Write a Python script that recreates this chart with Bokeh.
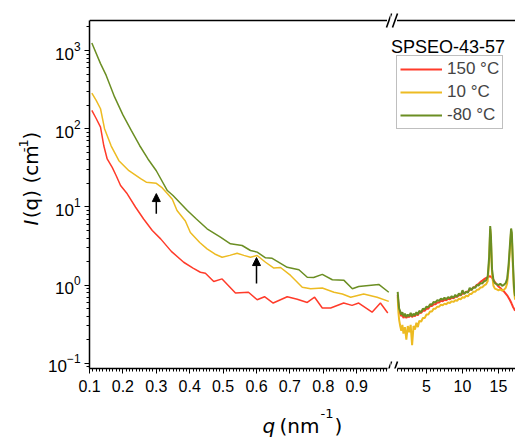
import numpy as np
from bokeh.plotting import figure
from bokeh.layouts import row, column
from bokeh.models import (Range1d, FixedTicker, Label, Legend, LegendItem,
                          Arrow, NormalHead)
from bokeh.embed import file_html
from bokeh.resources import INLINE

# ---------------- data: low-q segment (0.1 - 1.0 nm^-1) ----------------
q_red_lo = [0.107, 0.12, 0.133, 0.143, 0.153, 0.168, 0.18, 0.193, 0.213, 0.238, 0.262, 0.288,
            0.313, 0.345, 0.382, 0.41, 0.432, 0.447, 0.472, 0.497, 0.537, 0.576, 0.602, 0.624,
            0.65, 0.692, 0.722, 0.752, 0.774, 0.797, 0.822, 0.861, 0.886, 0.906, 0.946, 0.971, 0.993]
I_red_lo = [172, 135, 105, 60, 41, 32, 25, 18.8, 14.7, 9.9, 7.0, 5.0,
            3.9, 2.7, 1.96, 1.65, 1.46, 1.42, 1.11, 1.2, 0.79, 0.81, 0.65, 0.71,
            0.59, 0.71, 0.66, 0.60, 0.70, 0.51, 0.51, 0.59, 0.55, 0.59, 0.45, 0.59, 0.44]

q_yel_lo = [0.107, 0.12, 0.133, 0.145, 0.165, 0.188, 0.218, 0.253, 0.27, 0.30, 0.318, 0.335,
            0.348, 0.362, 0.387, 0.402, 0.43, 0.452, 0.475, 0.497, 0.52, 0.542, 0.562, 0.582,
            0.602, 0.627, 0.652, 0.672, 0.702, 0.737, 0.762, 0.797, 0.832, 0.857, 0.882, 0.921,
            0.961, 0.996]
I_yel_lo = [285, 230, 180, 100, 60, 39, 29, 23, 20.7, 20.0, 17.5, 14.5,
            12.5, 9.0, 6.6, 4.7, 3.5, 2.91, 2.5, 2.27, 2.4, 2.56, 2.4, 2.27,
            2.39, 1.96, 1.65, 1.68, 1.33, 0.94, 0.90, 0.92, 0.81, 0.77, 0.70, 0.77,
            0.70, 0.62]

q_grn_lo = [0.107, 0.133, 0.15, 0.175, 0.2, 0.225, 0.25, 0.275, 0.3, 0.333, 0.35, 0.393,
            0.42, 0.452, 0.492, 0.522, 0.557, 0.582, 0.602, 0.627, 0.647, 0.692, 0.727, 0.752,
            0.771, 0.797, 0.827, 0.862, 0.887, 0.906, 0.966, 0.996]
I_grn_lo = [1250, 680, 480, 255, 150, 95, 61, 41, 29, 16.2, 14, 9.0,
            7.0, 5.25, 4.1, 3.37, 3.21, 2.77, 2.64, 2.23, 2.2, 1.69, 1.57, 1.26,
            1.25, 1.37, 1.17, 1.15, 0.90, 0.96, 1.02, 0.81]

# ---------------- data: wide-angle segment (1 - 17 nm^-1) ----------------
q_hi = [1.0, 1.1, 1.2, 1.35, 1.5, 1.65, 1.8, 2.0, 2.2, 2.4, 2.6, 2.8, 3.0, 3.2, 3.4, 3.6, 3.8, 4.0,
        4.25, 4.5, 4.75, 5.0, 5.25, 5.5, 5.75, 6.0, 6.25, 6.5, 6.75, 7.0, 7.25, 7.5, 7.75, 8.0,
        8.25, 8.5, 8.75, 9.0, 9.25, 9.5, 9.75, 10.0, 10.25, 10.5, 10.75, 11.0, 11.25, 11.5, 11.75,
        12.0, 12.25, 12.5, 12.75, 13.0, 13.25, 13.5, 13.7, 13.85, 13.95, 14.1, 14.3, 14.5,
        14.75, 15.0, 15.25, 15.5, 15.75, 16.0, 16.2, 16.4, 16.6, 16.75, 16.85, 17.0, 17.15, 17.3]
I_red_hi = [0.75, 0.58, 0.48, 0.43, 0.40, 0.42, 0.38, 0.41, 0.38, 0.40, 0.39, 0.42, 0.39, 0.41,
            0.40, 0.43, 0.41, 0.45, 0.44, 0.47, 0.47, 0.50, 0.50, 0.54, 0.54, 0.57, 0.57, 0.60,
            0.60, 0.63, 0.62, 0.65, 0.64, 0.67, 0.66, 0.69, 0.68, 0.71, 0.71, 0.74, 0.74, 0.78,
            0.78, 0.82, 0.82, 0.87, 0.88, 0.93, 0.95, 1.01, 1.04, 1.10, 1.14, 1.19, 1.23, 1.27,
            1.29, 1.30, 1.28, 1.24, 1.17, 1.09, 1.02, 0.96, 0.92, 0.87, 0.83, 0.78, 0.74, 0.69,
            0.64, 0.60, 0.57, 0.53, 0.50, 0.47]
I_yel_hi = [0.70, 0.45, 0.36, 0.30, 0.26, 0.31, 0.24, 0.29, 0.20, 0.30, 0.25, 0.31, 0.17, 0.30,
            0.27, 0.33, 0.29, 0.35, 0.34, 0.38, 0.38, 0.42, 0.42, 0.46, 0.46, 0.50, 0.50, 0.53,
            0.53, 0.56, 0.55, 0.58, 0.57, 0.60, 0.59, 0.62, 0.61, 0.64, 0.63, 0.67, 0.66, 0.70,
            0.69, 0.73, 0.72, 0.77, 0.77, 0.82, 0.82, 0.87, 0.88, 0.93, 0.94, 0.99, 1.02, 1.12,
            2.0, 5.2, 3.8, 1.4, 0.98, 0.90, 0.88, 0.86, 0.88, 0.85, 0.87, 0.92, 1.05, 1.6,
            3.0, 4.8, 4.2, 1.7, 0.85, 0.65]
I_grn_hi = [0.82, 0.62, 0.50, 0.46, 0.42, 0.45, 0.40, 0.43, 0.39, 0.42, 0.40, 0.44, 0.40, 0.43,
            0.41, 0.45, 0.42, 0.47, 0.45, 0.50, 0.49, 0.53, 0.52, 0.57, 0.56, 0.61, 0.60, 0.64,
            0.63, 0.67, 0.65, 0.69, 0.66, 0.70, 0.68, 0.72, 0.69, 0.75, 0.71, 0.78, 0.74, 0.86,
            0.77, 0.82, 0.80, 0.92, 0.86, 0.94, 0.92, 1.00, 0.99, 1.06, 1.05, 1.12, 1.14, 1.28,
            2.3, 5.7, 4.2, 1.6, 1.15, 1.06, 1.03, 1.00, 1.04, 0.98, 1.01, 1.06, 1.2, 1.8,
            3.4, 5.3, 4.7, 2.0, 0.95, 0.72]

series_names = ["150 °C", "10 °C", "-80 °C"]
series_colors = ["#FF3B2A", "#EDBB22", "#6B8E23"]
legend_title = "SPSEO-43-57"

arrow_q = [0.3, 0.6]
arrow_tail = [8.2, 1.05]
arrow_head = [14.8, 2.25]

x_ticks_lo = [0.1, 0.2, 0.3, 0.4, 0.5, 0.6, 0.7, 0.8, 0.9]
x_ticks_hi = [5, 10, 15]

for a, b in [(q_red_lo, I_red_lo), (q_yel_lo, I_yel_lo), (q_grn_lo, I_grn_lo),
             (q_hi, I_red_hi), (q_hi, I_yel_hi), (q_hi, I_grn_hi)]:
    assert len(a) == len(b), (len(a), len(b))

# ---------------- geometry (page pixels) ----------------
W, H = 515, 438
ROW_H = 400
YLAB_W = 45
FR_LEFT, FR_BREAK, FR_RIGHT = 89, 390, 515     # frame x edges
FR_TOP, BOX_TOP, BOX_BOT = 6, 20, 368          # frame top, axis-box top line, x-axis line
PX_PER_DEC = 78.2
PX_DEC0 = 284.6                                 # pixel row of 10^0
PX_LO = 334.0                                   # px per 1 nm^-1, low-q panel
PX_HI = 7.2                                     # px per 1 nm^-1, wide-angle panel
BRK_L, BRK_R = 386.5, 396.5                     # where the axis lines stop / restart


def y_at(py):
    return 10 ** ((PX_DEC0 - py) / PX_PER_DEC)


Y_MIN, Y_MAX, Y_TOP = y_at(BOX_BOT), y_at(BOX_TOP), y_at(FR_TOP)
xlo_end = 0.1 + (FR_BREAK - FR_LEFT) / PX_LO
xhi_start = 5 - (426 - FR_BREAK) / PX_HI
xhi_end = 5 + (FR_RIGHT - 426) / PX_HI


def x_lo(px):
    return 0.1 + (px - FR_LEFT) / PX_LO


def x_hi(px):
    return xhi_start + (px - FR_BREAK) / PX_HI


yr = Range1d(Y_MIN, Y_TOP)
TICK_FONT = "Liberation Sans"
LAB_FONT = "DejaVu Sans"


def style_axis(ax, size):
    ax.axis_line_width = 1.5
    ax.axis_line_color = "black"
    ax.major_tick_line_color = "black"
    ax.minor_tick_line_color = "black"
    ax.major_tick_in = 0
    ax.minor_tick_in = 0
    ax.major_tick_out = 5
    ax.minor_tick_out = 3
    ax.major_label_text_font = TICK_FONT
    ax.major_label_text_font_size = size
    ax.major_label_text_color = "black"


def bare(p):
    p.outline_line_color = None
    p.xgrid.visible = False
    p.ygrid.visible = False
    p.background_fill_color = "white"
    p.border_fill_color = "white"


left = figure(width=FR_BREAK - YLAB_W, height=ROW_H, x_range=Range1d(0.1, xlo_end), y_range=yr,
              y_axis_type="log", output_backend="svg", toolbar_location=None,
              min_border_left=FR_LEFT - YLAB_W, min_border_right=0,
              min_border_top=FR_TOP, min_border_bottom=ROW_H - BOX_BOT)
right = figure(width=FR_RIGHT - FR_BREAK, height=ROW_H, x_range=Range1d(xhi_start, xhi_end), y_range=yr,
               y_axis_type="log", y_axis_location=None, output_backend="svg", toolbar_location=None,
               min_border_left=0, min_border_right=0,
               min_border_top=FR_TOP, min_border_bottom=ROW_H - BOX_BOT)
bare(left)
bare(right)

left.xaxis.ticker = FixedTicker(ticks=x_ticks_lo, minor_ticks=list(np.round(np.arange(0.1, 0.9901, 0.01), 2)))
right.xaxis.ticker = FixedTicker(ticks=x_ticks_hi, minor_ticks=list(np.arange(1.0, 17.01, 0.5)))
style_axis(left.xaxis[0], "16px")
style_axis(right.xaxis[0], "16px")
style_axis(left.yaxis[0], "17px")
left.xaxis.bounds = (0.1, x_lo(BRK_L))
right.xaxis.bounds = (x_hi(BRK_R), xhi_end)
left.yaxis.bounds = (Y_MIN, Y_MAX)
left.xaxis.major_label_standoff = 6
right.xaxis.major_label_standoff = 6
left.yaxis.major_label_standoff = 4

# top border line of the axis box (interrupted at the break)
left.segment(x0=[0.1], y0=[Y_MAX], x1=[x_lo(BRK_L)], y1=[Y_MAX], line_color="black", line_width=1.5)
right.segment(x0=[x_hi(BRK_R)], y0=[Y_MAX], x1=[xhi_end], y1=[Y_MAX], line_color="black", line_width=1.5)

# axis-break slashes, drawn in both panels (each panel shows its own part)
for p, fx in ((left, x_lo), (right, x_hi)):
    for yc in (BOX_TOP, BOX_BOT):
        for sx in (BRK_L - 0.5, BRK_L + 5.5):
            p.segment(x0=[fx(sx)], y0=[y_at(yc + 7)], x1=[fx(sx + 5)], y1=[y_at(yc - 7)],
                      line_color="black", line_width=1.6)

# curves
lo = [(q_red_lo, I_red_lo), (q_yel_lo, I_yel_lo), (q_grn_lo, I_grn_lo)]
hi = [I_red_hi, I_yel_hi, I_grn_hi]
rend_hi = []
for (qx, iy), ih, col in zip(lo, hi, series_colors):
    left.line(qx, iy, line_color=col, line_width=1.5)
    rend_hi.append(right.line(q_hi, ih, line_color=col, line_width=2))

# arrows
for qa, t, h in zip(arrow_q, arrow_tail, arrow_head):
    left.add_layout(Arrow(x_start=qa, y_start=t, x_end=qa, y_end=h, line_width=1.5, line_color="black",
                          end=NormalHead(size=8, fill_color="black", line_color="black")))

# legend + its title
legend = Legend(items=[LegendItem(label=n, renderers=[r]) for n, r in zip(series_names, rend_hi)],
                location=(6, BOX_BOT - 129),
                padding=3, margin=0, spacing=3, label_height=20, glyph_height=20,
                glyph_width=42, label_standoff=5, label_text_font=TICK_FONT, label_text_font_size="17px",
                border_line_color="#808080", border_line_width=1, background_fill_color="white",
                background_fill_alpha=1.0)
right.add_layout(legend)
right.add_layout(Label(x=x_hi(390.5), y=y_at(46), text=legend_title,
                       text_font=TICK_FONT, text_font_size="18px", text_align="left",
                       text_baseline="middle", text_color="black"))

# ---------------- axis-title strips (data units == page pixels) ----------------
ylab = figure(width=YLAB_W, height=ROW_H, x_range=Range1d(0, YLAB_W), y_range=Range1d(ROW_H, 0),
              x_axis_location=None, y_axis_location=None, output_backend="svg", toolbar_location=None,
              min_border=0)
xlab = figure(width=W, height=H - ROW_H, x_range=Range1d(0, W), y_range=Range1d(H, ROW_H),
              x_axis_location=None, y_axis_location=None, output_backend="svg", toolbar_location=None,
              min_border=0)
bare(ylab)
bare(xlab)


def lab(p, x, y, text, size="20px", style="normal", angle=0.0):
    p.add_layout(Label(x=x, y=y, text=text, angle=angle,
                       text_font=LAB_FONT, text_font_size=size, text_font_style=style,
                       text_align="left", text_baseline="middle", text_color="black"))


A = np.pi / 2
lab(ylab, 30, 242, "I", style="italic", angle=A)
lab(ylab, 30, 234, "(q) (cm", angle=A)
lab(ylab, 23, 161, "-1", size="13px", angle=A)
lab(ylab, 30, 147, ")", angle=A)

lab(xlab, 262, 425, "q", style="italic")
lab(xlab, 279, 425, "(nm")
lab(xlab, 320, 413, "-1", size="13px")
lab(xlab, 334, 425, ")")

layout = column(row(ylab, left, right, spacing=0), xlab, spacing=0)
open("out.html", "w").write(file_html(layout, INLINE))
